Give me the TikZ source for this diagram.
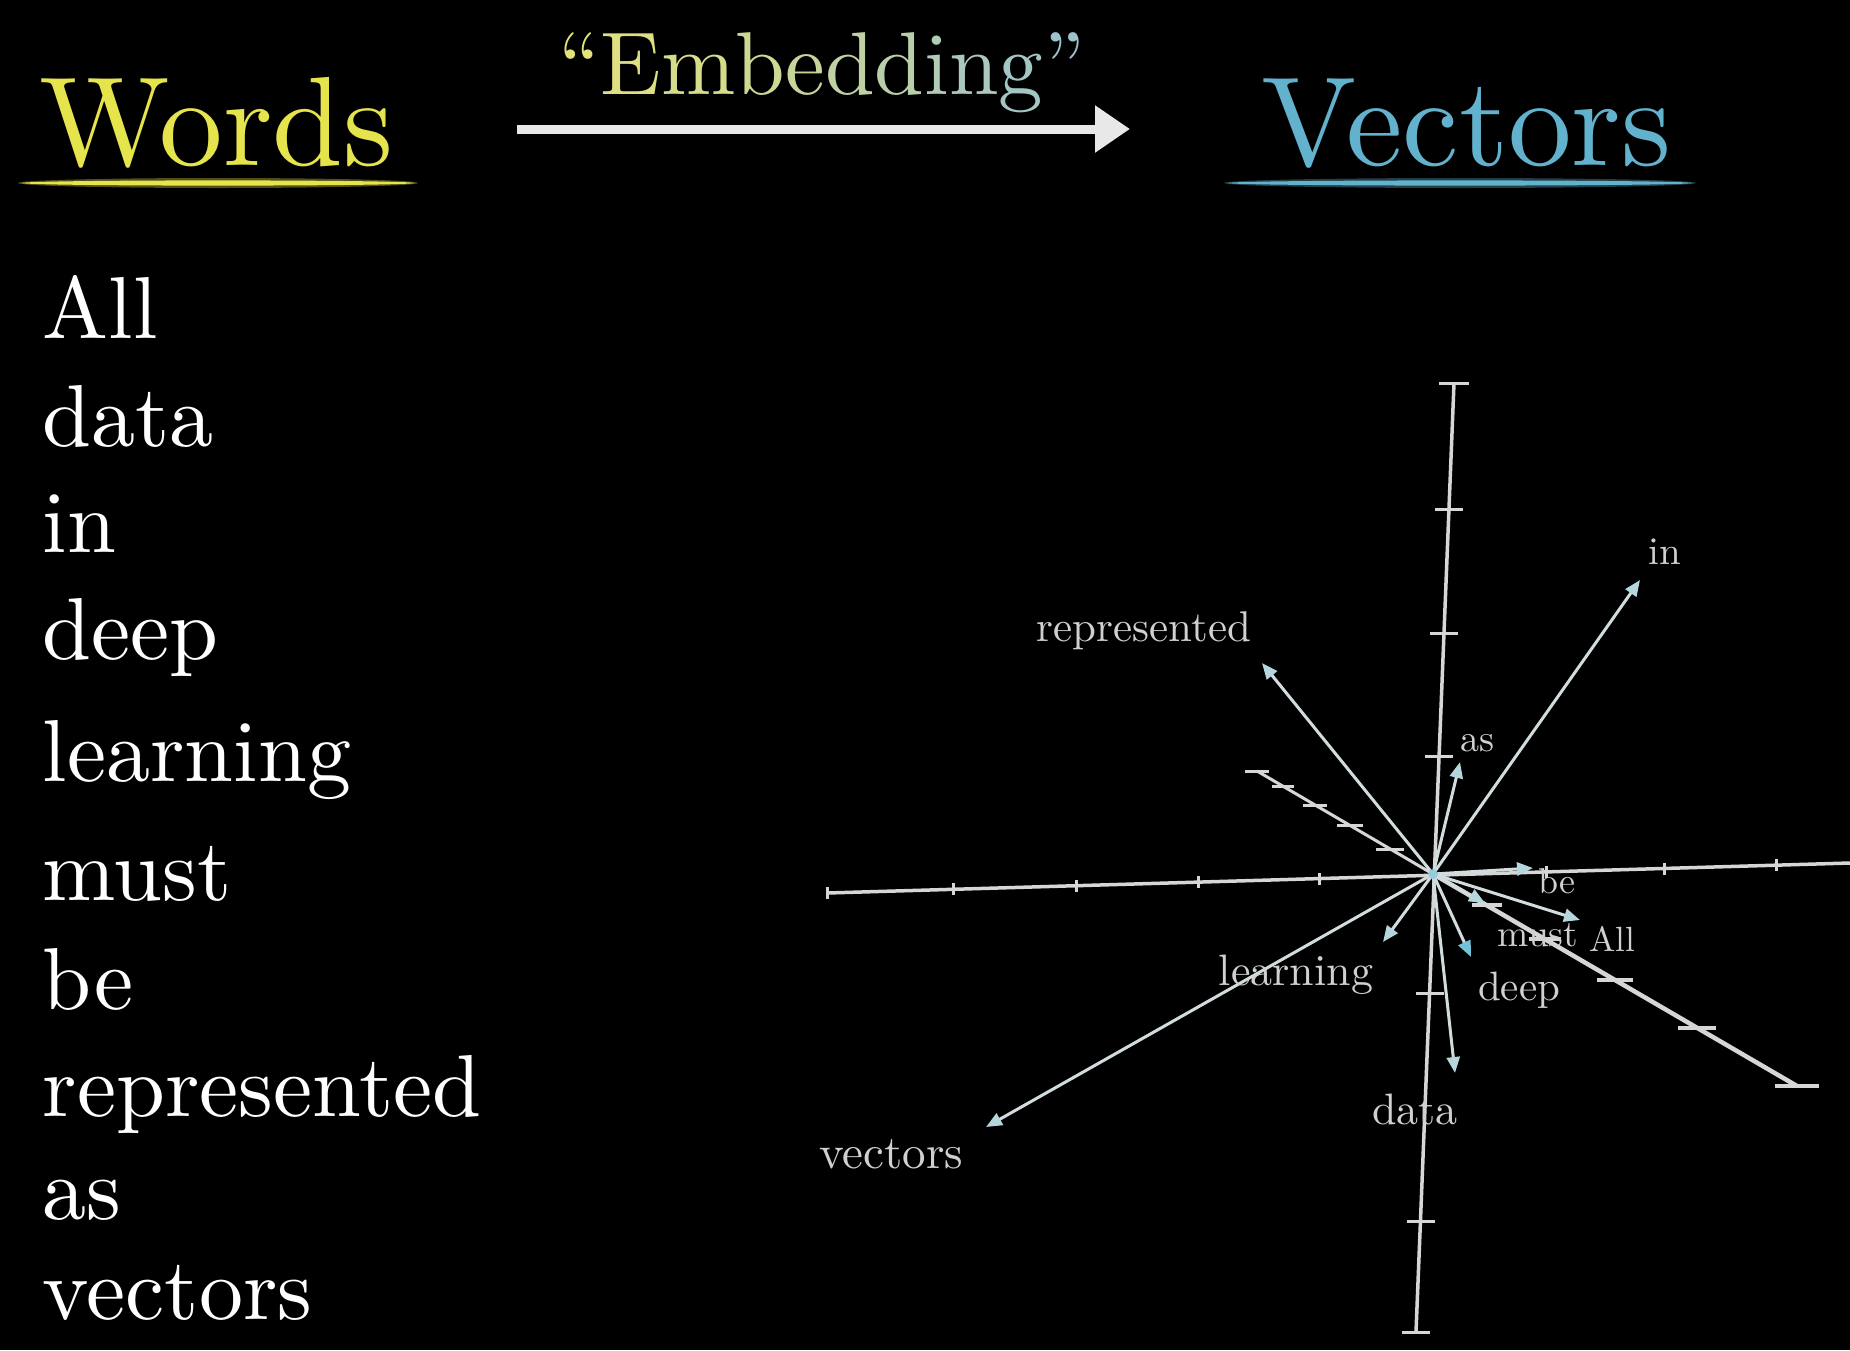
\documentclass[tikz,border=0pt]{standalone}
\usetikzlibrary{arrows.meta}
\definecolor{wordsY}{HTML}{E6E44C}
\definecolor{vecB}{HTML}{62B2CE}
\definecolor{axisc}{HTML}{D6D6D6}
\definecolor{vecc}{HTML}{D2DCDE}
\definecolor{tipc}{HTML}{B4D6DC}
\definecolor{deeptip}{HTML}{74C2D8}
\definecolor{labc}{HTML}{D0D0D0}
\definecolor{embY}{HTML}{E4E27A}
\definecolor{embB}{HTML}{9CC2CC}
\definecolor{arrowc}{HTML}{E8E8E8}
\newcommand\embg[2]{\textcolor{embB!#1!embY}{#2}}
\begin{document}
\begin{tikzpicture}[x=1pt,y=-1pt,
  listword/.style={anchor=base west, inner sep=0pt, scale=8.8, text=white},
  titleword/.style={anchor=base west, inner sep=0pt, scale=12.7},
  veclab/.style={anchor=base, inner sep=0pt, text=labc},
  vecarrow/.style={draw=vecc, line width=3pt, -{Triangle[length=16pt,width=13pt,color=tipc]}},
  axisline/.style={draw=axisc, line width=3.5pt},
  tickmark/.style={draw=axisc, line width=3pt}]
\useasboundingbox (0,0) rectangle (1850,1350);
\fill[black] (0,0) rectangle (1850,1350);

% header
\node[titleword, text=wordsY] (words) at (37,165) {Words};
\node[titleword, text=vecB] (vectorsT) at (1259,165) {Vectors};
\node[anchor=base west, inner sep=0pt, scale=8.92] (emb) at (557,94)
  {\embg{0}{“}\embg{10}{E}\embg{20}{m}\embg{30}{b}\embg{40}{e}\embg{50}{d}\embg{60}{d}\embg{70}{i}\embg{80}{n}\embg{90}{g}\embg{100}{”}};
\coordinate (aS) at (517,129);
\coordinate (aE) at (1130,129);
\draw[draw=arrowc, line width=9pt, -{Triangle[length=35pt,width=45pt,color=arrowc]}] (aS) -- (aE);
\fill[wordsY, opacity=0.35] (218,183) ellipse [x radius=200pt, y radius=5pt];
\fill[wordsY] (218,183) ellipse [x radius=196pt, y radius=2.6pt];
\fill[vecB, opacity=0.35] (1460,183) ellipse [x radius=236pt, y radius=5pt];
\fill[vecB] (1460,183) ellipse [x radius=232pt, y radius=2.6pt];

% word list
\node[listword] (lAll) at (41,338) {All};
\node[listword] (lData) at (41,446) {data};
\node[listword] (lIn) at (41,552) {in};
\node[listword] (lDeep) at (41,659) {deep};
\node[listword] (lLearning) at (41,781) {learning};
\node[listword] (lMust) at (41,900) {must};
\node[listword] (lBe) at (41,1009) {be};
\node[listword] (lRep) at (41,1116) {represented};
\node[listword] (lAs) at (41,1219) {as};
\node[listword] (lVectors) at (41,1319) {vectors};

% axes
\coordinate (O) at (1433,874);
\coordinate (hL) at (827,893);
\coordinate (hR) at (1850,863);
\coordinate (vT) at (1454,383);
\coordinate (vB) at (1416,1332);
\coordinate (dL) at (1257,771);
\coordinate (dR) at (1797,1086);
\draw[axisline] (hL) -- (hR);
\draw[axisline] (vT) -- (vB);
\draw[draw=axisc, line width=3pt] (dL) -- (O);
\draw[draw=axisc, line width=4.5pt] (O) -- (dR);
\foreach \x/\y in {827/893, 953/889.3, 1076/885.7, 1198/882.1, 1319/878.6, 1546/871.9, 1664/868.5, 1776/865.2}
  \draw[tickmark] (\x,\y-6) -- (\x,\y+6);
\foreach \x/\y/\w in {1454/383/15, 1449/509/14, 1444/633/14, 1439/756/14, 1430/993/14, 1421/1221/14, 1416/1332/14}
  \draw[tickmark] (\x-\w,\y) -- (\x+\w,\y);
\foreach \x/\y/\w in {1257/771/12, 1283/786/11, 1315/805/12, 1350/825/13, 1390/849/14}
  \draw[tickmark] (\x-\w,\y) -- (\x+\w,\y);
\foreach \x/\y/\w in {1487/905/15, 1545/939/16, 1615/980/18, 1697/1028/19, 1797/1086/22}
  \draw[draw=axisc, line width=4pt] (\x-\w,\y) -- (\x+\w,\y);

% vectors
\coordinate (tRep) at (1262,663);
\coordinate (tIn) at (1640,580);
\coordinate (tAs) at (1460,762);
\coordinate (tBe) at (1533,868);
\coordinate (tAll) at (1580,920);
\coordinate (tMust) at (1485,903);
\coordinate (tDeep) at (1471,957);
\coordinate (tLearning) at (1383,942);
\coordinate (tData) at (1455,1073);
\coordinate (tVectors) at (986,1127);
\draw[vecarrow] (O) -- (tRep);
\draw[vecarrow] (O) -- (tIn);
\draw[vecarrow] (O) -- (tAs);
\draw[vecarrow] (O) -- (tBe);
\draw[vecarrow] (O) -- (tAll);
\draw[vecarrow] (O) -- (tMust);
\draw[vecarrow, -{Triangle[length=16pt,width=13pt,color=deeptip]}] (O) -- (tDeep);
\draw[vecarrow] (O) -- (tLearning);
\draw[vecarrow] (O) -- (tData);
\draw[vecarrow] (O) -- (tVectors);
\fill[deeptip, opacity=0.6] (O) circle [radius=5pt];

% vector labels
\node[veclab, scale=4.3] (nRep) at (1144,641) {represented};
\node[veclab, scale=3.9] (nIn) at (1665,564) {in};
\node[veclab, scale=3.8] (nAs) at (1477,751) {as};
\node[veclab, scale=3.6] (nBe) at (1557,893) {be};
\node[veclab, scale=3.5] (nAll) at (1612,951) {All};
\node[veclab, scale=3.75] (nMust) at (1538,946) {must};
\node[veclab, scale=4.1] (nDeep) at (1519,1000) {deep};
\node[veclab, scale=4.4] (nLearning) at (1296,985) {learning};
\node[veclab, scale=4.4] (nData) at (1415,1124) {data};
\node[veclab, scale=4.7] (nVectors) at (891,1168) {vectors};
\end{tikzpicture}
\end{document}
